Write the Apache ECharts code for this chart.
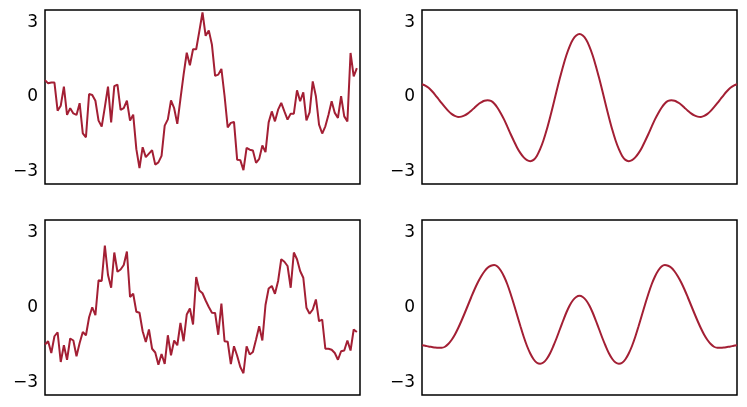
<!DOCTYPE html>
<html><head><meta charset="utf-8">
<script src="https://cdn.jsdelivr.net/npm/echarts@6/dist/echarts.min.js"></script>
<style>html,body{margin:0;padding:0;background:#fff}#c{width:747px;height:407px}</style>
</head><body><div id="c"></div>
<script>
const yTickLabels = [-3, 0, 3];

const topLeft = [
  0.68, 0.55, 0.58, 0.58, -0.55, -0.35, 0.42, -0.72, -0.45, -0.66,
  -0.72, -0.25, -1.46, -1.62, 0.12, 0.08, -0.15, -0.95, -1.19, -0.41,
  0.42, -1.02, 0.44, 0.50, -0.52, -0.45, -0.15, -0.95, -0.71, -2.10,
  -2.86, -2.02, -2.42, -2.28, -2.14, -2.72, -2.63, -2.37, -1.15, -0.90,
  -0.14, -0.45, -1.08, -0.08, 0.90, 1.78, 1.28, 1.92, 1.92, 2.65,
  3.40, 2.46, 2.68, 2.10, 0.85, 0.90, 1.13, 0.05, -1.22, -1.04,
  -1.00, -2.52, -2.54, -2.94, -2.05, -2.12, -2.15, -2.65, -2.49, -1.95,
  -2.22, -1.02, -0.58, -0.98, -0.51, -0.24, -0.58, -0.91, -0.67, -0.67,
  0.27, -0.17, 0.19, -0.94, -0.62, 0.63, 0.03, -1.11, -1.47, -1.18,
  -0.71, -0.17, -0.64, -0.84, 0.03, -0.78, -0.98, 1.77, 0.83, 1.16
];

const bottomLeft = [
  -1.48, -1.35, -1.82, -1.15, -0.99, -2.18, -1.51, -2.09, -1.24, -1.32,
  -1.95, -1.42, -0.98, -1.11, -0.39, 0.01, -0.31, 1.09, 1.06, 2.48,
  1.30, 0.79, 2.20, 1.43, 1.52, 1.70, 2.24, 0.42, 0.55, -0.17,
  -0.21, -0.95, -1.38, -0.88, -1.65, -1.80, -2.29, -1.86, -2.26, -1.11,
  -1.91, -1.32, -1.51, -0.62, -1.35, -0.28, -0.04, -0.68, 1.22, 0.68,
  0.57, 0.28, 0.02, -0.21, -0.22, -1.09, 0.16, -1.35, -1.37, -2.26,
  -1.55, -1.93, -2.38, -2.63, -1.55, -1.88, -1.78, -1.28, -0.75, -1.32,
  0.10, 0.76, 0.86, 0.55, 1.06, 1.93, 1.83, 1.66, 0.79, 2.20,
  1.93, 1.46, 1.19, -0.01, -0.25, -0.08, 0.32, -0.55, -0.48, -1.65,
  -1.65, -1.69, -1.82, -2.09, -1.75, -1.72, -1.32, -1.72, -0.88, -0.98
];

const topRight = [
  0.51, 0.46, 0.37, 0.24, 0.09, -0.08, -0.25, -0.41, -0.56, -0.68,
  -0.76, -0.80, -0.79, -0.74, -0.66, -0.55, -0.43, -0.31, -0.22, -0.15,
  -0.13, -0.16, -0.26, -0.43, -0.65, -0.90, -1.19, -1.49, -1.77, -2.04,
  -2.26, -2.43, -2.54, -2.58, -2.53, -2.37, -2.10, -1.75, -1.32, -0.83,
  -0.31, 0.23, 0.75, 1.24, 1.68, 2.04, 2.31, 2.47,
  2.53,
  2.47, 2.31, 2.04, 1.68, 1.24, 0.75, 0.23, -0.31, -0.83, -1.32,
  -1.75, -2.10, -2.37, -2.53, -2.58, -2.54, -2.43, -2.26, -2.04, -1.77,
  -1.49, -1.19, -0.90, -0.65, -0.43, -0.26, -0.16, -0.13, -0.15, -0.22,
  -0.31, -0.43, -0.55, -0.66, -0.74, -0.79, -0.80, -0.76, -0.68, -0.56,
  -0.41, -0.25, -0.08, 0.09, 0.24, 0.37, 0.46, 0.51
];

const bottomRight = [
  -1.51, -1.53, -1.56, -1.58, -1.60, -1.61, -1.61, -1.57, -1.46, -1.30,
  -1.09, -0.83, -0.54, -0.23, 0.09, 0.41, 0.72, 1.00, 1.24, 1.44,
  1.59, 1.67, 1.70, 1.64, 1.48, 1.24, 0.93, 0.55, 0.13, -0.31,
  -0.75, -1.17, -1.54, -1.84, -2.07, -2.21, -2.25, -2.20, -2.06, -1.84,
  -1.55, -1.23, -0.88, -0.53, -0.20, 0.08, 0.29, 0.42,
  0.47,
  0.42, 0.29, 0.08, -0.20, -0.53, -0.88, -1.23, -1.55, -1.84, -2.06,
  -2.20, -2.25, -2.21, -2.07, -1.84, -1.54, -1.17, -0.75, -0.31, 0.13,
  0.55, 0.93, 1.24, 1.48, 1.64, 1.70, 1.67, 1.59, 1.44, 1.24,
  1.00, 0.72, 0.41, 0.09, -0.23, -0.54, -0.83, -1.09, -1.30, -1.46,
  -1.57, -1.61, -1.61, -1.60, -1.58, -1.56, -1.53, -1.51
];

const panels = [
  { data: topLeft, xMax: 100, smooth: false },
  { data: topRight, xMax: topRight.length - 1, smooth: true },
  { data: bottomLeft, xMax: 100, smooth: false },
  { data: bottomRight, xMax: bottomRight.length - 1, smooth: true }
];

const grids = [
  { left: 45, top: 10, width: 315, height: 174 },
  { left: 422, top: 10, width: 315, height: 174 },
  { left: 45, top: 220, width: 315, height: 175 },
  { left: 422, top: 220, width: 315, height: 175 }
];

const lineColor = '#A31F34';

const chart = echarts.init(document.getElementById('c'), null, { renderer: 'canvas' });
const option = {
  animation: false,
  backgroundColor: '#fff',
  grid: grids.map(g => Object.assign({ show: true, borderColor: '#000', borderWidth: 1.5, backgroundColor: 'transparent' }, g)),
  xAxis: panels.map((p, i) => ({
    type: 'value', gridIndex: i, min: 0, max: p.xMax,
    axisLine: { show: false }, axisTick: { show: false },
    axisLabel: { show: false }, splitLine: { show: false }
  })),
  yAxis: panels.map((p, i) => ({
    type: 'value', gridIndex: i, min: -3.5, max: 3.5, interval: 0.5,
    axisLine: { show: false }, axisTick: { show: false }, splitLine: { show: false },
    axisLabel: {
      show: true, margin: 7, color: '#000', fontSize: 17, fontFamily: 'DejaVu Sans',
      formatter: v => {
        const r = Math.round(v * 100) / 100;
        if (!yTickLabels.includes(r)) return '';
        return r < 0 ? '\u2212' + Math.abs(r) : String(r);
      }
    }
  })),
  series: panels.map((p, i) => ({
    type: 'line', xAxisIndex: i, yAxisIndex: i,
    data: p.data.map((v, k) => [k, v]),
    showSymbol: false, symbol: 'none', smooth: p.smooth ? 0.3 : false,
    lineStyle: { color: lineColor, width: 2 },
    clip: true
  }))
};
chart.setOption(option);
</script>
</body></html>
